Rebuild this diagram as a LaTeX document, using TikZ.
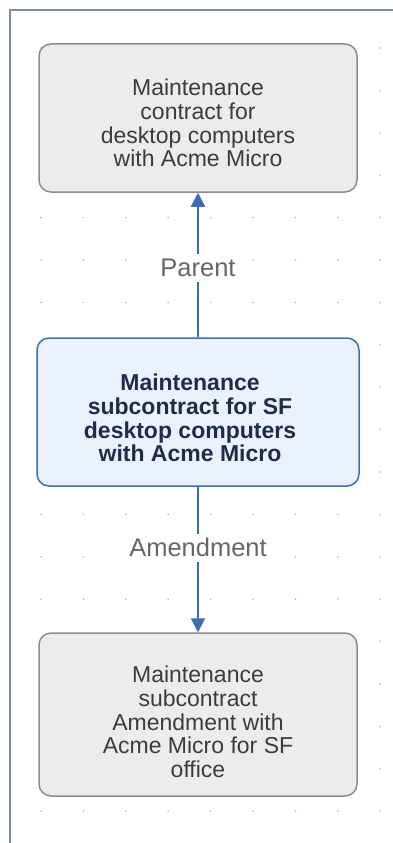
\documentclass[tikz,border=0pt]{standalone}
\usepackage{fontspec}
\setmainfont{Liberation Sans}
\usetikzlibrary{arrows.meta}
\definecolor{frameblue}{HTML}{7D8CA5}
\definecolor{griddot}{HTML}{B4B4B4}
\definecolor{greyfill}{HTML}{ECECEC}
\definecolor{greyedge}{HTML}{8C8C8C}
\definecolor{bluefill}{HTML}{EAF3FD}
\definecolor{blueedge}{HTML}{3F6EAE}
\definecolor{linkblue}{HTML}{3A6DB5}
\definecolor{greytext}{HTML}{3C3C3C}
\definecolor{navytext}{HTML}{1E2D4A}
\definecolor{labeltext}{HTML}{666666}
\tikzset{
  card/.style={draw=greyedge, fill=greyfill, line width=1.5pt,
    rounded corners=12pt},
  focuscard/.style={card, draw=blueedge, fill=bluefill},
  cardtext/.style={align=center, text=greytext, inner sep=0pt,
    font=\fontsize{23}{23.7}\selectfont},
  focustext/.style={cardtext, text=navytext,
    font=\fontsize{23}{23.7}\selectfont\bfseries},
  link/.style={draw=linkblue, line width=2pt,
    -{Triangle[length=14pt,width=14pt]}},
  linklabel/.style={fill=white, text=labeltext, inner sep=5pt,
    font=\fontsize{25.5}{26}\selectfont}
}
\begin{document}
\begin{tikzpicture}[x=1pt,y=-1pt]
  \useasboundingbox (0,0) rectangle (393,843);
  \fill[white] (0,0) rectangle (393,843);
  % canvas frame
  \draw[frameblue, line width=2pt] (10,843) -- (10,10) -- (393,10);
  % dot grid
  \foreach \i in {0,...,8}
    \foreach \j in {0,...,18}
      \fill[griddot] ({41+42.4*\i},{48+42.4*\j}) circle (0.9pt);
  % contract cards
  \node[card, minimum width=318pt, minimum height=148pt] (parent) at (198,118) {};
  \node[cardtext] (parenttext) at (198,123)
    {Maintenance\\contract for\\desktop computers\\with Acme Micro};
  \node[focuscard, minimum width=322pt, minimum height=148pt] (sub) at (198,412) {};
  \node[focustext] (subtext) at (190,418)
    {Maintenance\\subcontract for SF\\desktop computers\\with Acme Micro};
  \node[card, minimum width=318pt, minimum height=163pt] (amend) at (198,714.5) {};
  \node[cardtext] (amendtext) at (198,722)
    {Maintenance\\subcontract\\Amendment with\\Acme Micro for SF\\office};
  % relations
  \draw[link] (sub.north) -- (parent.south)
    node[linklabel, pos=0.48] (lp) {Parent};
  \draw[link] (sub.south) -- (amend.north)
    node[linklabel, pos=0.42] (la) {Amendment};
\end{tikzpicture}
\end{document}
